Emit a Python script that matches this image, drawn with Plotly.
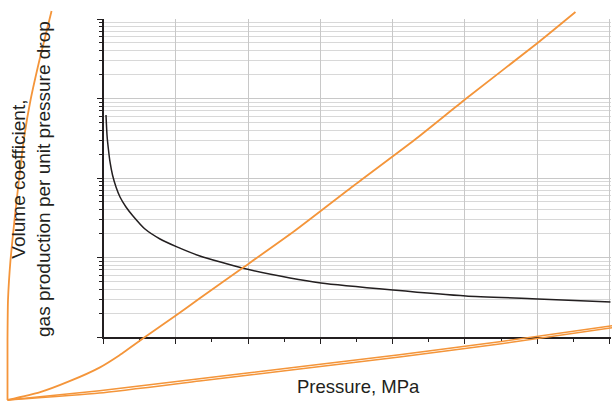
import plotly.graph_objects as go

# ---- data ----
# black curve: pressure (MPa) vs volume coefficient (log axis)
pressure = [0.173, 0.242, 0.346, 0.45, 0.623, 0.865, 1.141, 1.556, 2.04, 2.87, 3.91,
            5.08, 6.67, 9.58, 12.9, 15.04, 20.02, 25.07, 30.05, 35.1]
volume_coef = [61.9, 34.8, 22.5, 15.9, 10.9, 7.71, 5.77, 4.32, 3.33, 2.28, 1.71,
               1.36, 1.045, 0.738, 0.552, 0.478, 0.39, 0.328, 0.301, 0.275]

# orange curves (drawn on a second, full-figure coordinate frame)
curve_a_x = [0, 0, 0.035, 0.208, 0.486, 0.833, 1.18, 1.6, 2.22, 3.06]
curve_a_y = [0, 15, 25, 35, 45, 56.25, 66.25, 75, 85, 97.25]

curve_b_x = [0, 2.22, 4.31, 6.39, 7.78, 9.65, 11.74, 13.33, 16.32, 19.93, 24.1,
             28.26, 31.81, 36.81, 39.44]
curve_b_y = [0, 1.9, 4.7, 8.1, 11.2, 16, 21.25, 25.375, 33, 42.25, 53.75,
             65, 75.25, 89.25, 97]

curve_c1_x = [0, 6.39, 13.33, 20.28, 27.22, 34.17, 42.0]
curve_c1_y = [0, 2.3, 5.3, 8.3, 11.3, 14.55, 18.6]
curve_c2_x = [0, 6.39, 13.33, 20.28, 27.22, 34.17, 42.0]
curve_c2_y = [0, 1.75, 4.75, 7.75, 10.75, 14.0, 18.05]

x_title = "Pressure, MPa"
y_title = "Volume coefficient,<br>gas production per unit pressure drop"

DARK = "#231f20"
ORANGE = "#f4953a"
GRID = "#c8c8c8"
FONT = "Liberation Sans, Arial, sans-serif"

W, H = 612, 401

fig = go.Figure()

fig.add_trace(go.Scatter(x=pressure, y=volume_coef, mode="lines",
                         line=dict(color=DARK, width=1.5, shape="spline", smoothing=0.5),
                         xaxis="x", yaxis="y", showlegend=False, hoverinfo="skip"))

for xs, ys, w in [(curve_a_x, curve_a_y, 1.8), (curve_b_x, curve_b_y, 1.8),
                  (curve_c1_x, curve_c1_y, 1.5), (curve_c2_x, curve_c2_y, 1.5)]:
    fig.add_trace(go.Scatter(x=xs, y=ys, mode="lines",
                             line=dict(color=ORANGE, width=w, shape="spline", smoothing=0.5),
                             xaxis="x2", yaxis="y2", showlegend=False, hoverinfo="skip"))

x0, x1 = 103.5, 610.5
y0, y1 = 337, 19

fig.update_layout(
    width=W, height=H,
    margin=dict(l=0, r=0, t=0, b=0),
    paper_bgcolor="white",
    plot_bgcolor="rgba(0,0,0,0)",
    font=dict(family=FONT, color=DARK, size=18),
    xaxis=dict(domain=[x0 / W, x1 / W], anchor="y", range=[0, 35.07],
               dtick=5, tick0=0, showticklabels=False,
               ticks="outside", ticklen=5, tickwidth=1, tickcolor=DARK,
               showgrid=True, gridcolor=GRID, gridwidth=1,
               showline=True, linecolor=DARK, linewidth=1.5, zeroline=False,
               minor=dict(dtick=2.5, tick0=0, ticks="outside", ticklen=3,
                          tickcolor=DARK, showgrid=False)),
    yaxis=dict(domain=[1 - y0 / H, 1 - y1 / H], anchor="x", type="log",
               range=[-1, 3], dtick=1, showticklabels=False,
               ticks="outside", ticklen=5, tickwidth=1, tickcolor=DARK,
               showgrid=True, gridcolor=GRID, gridwidth=1,
               showline=True, linecolor=DARK, linewidth=1.5, zeroline=False,
               minor=dict(dtick="D1", ticks="outside", ticklen=3, tickcolor=DARK,
                          showgrid=True, gridcolor="#d8d8d8", gridwidth=1)),
    xaxis2=dict(domain=[0, 1], anchor="y2", range=[-7.5 / 14.4, 604.5 / 14.4],
                visible=False, fixedrange=True),
    yaxis2=dict(domain=[0, 1], anchor="x2", range=[-0.25, 100],
                visible=False, fixedrange=True),
    annotations=[
        dict(text=x_title, xref="paper", yref="paper", x=358.5 / W, y=1 - 386 / H,
             xanchor="center", yanchor="middle", showarrow=False,
             font=dict(size=18.5, family=FONT, color=DARK)),
        dict(text=y_title, xref="paper", yref="paper", x=31 / W, y=1 - 179 / H,
             xanchor="center", yanchor="middle", textangle=-90, showarrow=False,
             font=dict(size=19, family=FONT, color=DARK)),
    ],
)

fig.write_html("out.html", config={"displayModeBar": False},
               post_script="document.body.style.margin='0';document.body.style.padding='0';")
